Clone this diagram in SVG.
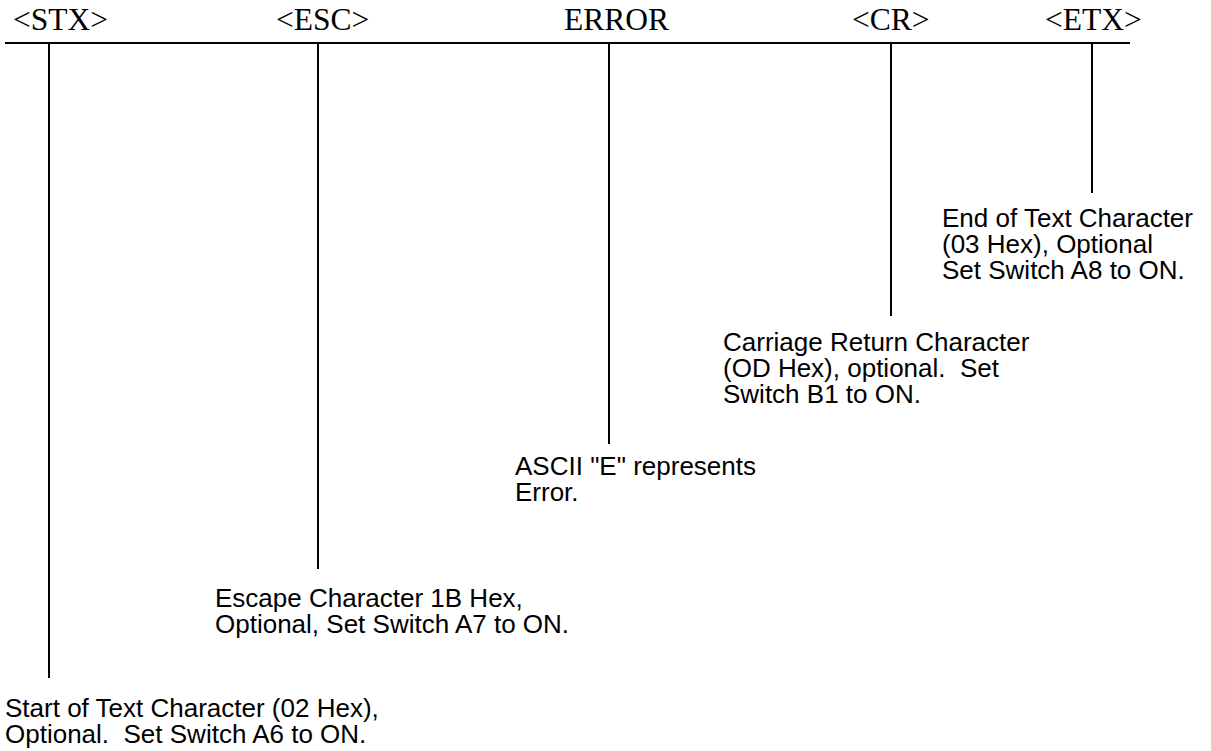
<svg xmlns="http://www.w3.org/2000/svg" width="1211" height="751" viewBox="0 0 1211 751">
<style>
.hdr{font-family:"Liberation Serif","Times New Roman",serif;font-size:31.5px;fill:#000}
.lbl{font-family:"Liberation Sans",Arial,sans-serif;font-size:26px;fill:#000}
.ln{stroke:#000;stroke-width:2;fill:none}
</style>
<rect width="1211" height="751" fill="#fff"/>
<g id="connectors">
<line class="ln" x1="5" y1="43" x2="1130" y2="43"/>
<line class="ln" x1="49" y1="43" x2="49" y2="678"/>
<line class="ln" x1="318" y1="43" x2="318" y2="569"/>
<line class="ln" x1="609" y1="43" x2="609" y2="444"/>
<line class="ln" x1="891" y1="43" x2="891" y2="316"/>
<line class="ln" x1="1092" y1="43" x2="1092" y2="193"/>
</g>
<g id="stx">
<text class="hdr" x="13" y="30">&lt;STX&gt;</text>
<text class="lbl" x="5" y="717">Start of Text Character (02 Hex),</text>
<text class="lbl" x="5" y="743" xml:space="preserve">Optional.  Set Switch A6 to ON.</text>
</g>
<g id="esc">
<text class="hdr" x="276" y="30">&lt;ESC&gt;</text>
<text class="lbl" x="215" y="607">Escape Character 1B Hex,</text>
<text class="lbl" x="215" y="633">Optional, Set Switch A7 to ON.</text>
</g>
<g id="error">
<text class="hdr" x="564" y="30">ERROR</text>
<text class="lbl" x="515" y="475">ASCII "E" represents</text>
<text class="lbl" x="515" y="501">Error.</text>
</g>
<g id="cr">
<text class="hdr" x="852" y="30">&lt;CR&gt;</text>
<text class="lbl" x="723" y="351">Carriage Return Character</text>
<text class="lbl" x="723" y="377" xml:space="preserve">(OD Hex), optional.  Set</text>
<text class="lbl" x="723" y="403">Switch B1 to ON.</text>
</g>
<g id="etx">
<text class="hdr" x="1045" y="30">&lt;ETX&gt;</text>
<text class="lbl" x="942" y="227">End of Text Character</text>
<text class="lbl" x="942" y="253">(03 Hex), Optional</text>
<text class="lbl" x="942" y="279">Set Switch A8 to ON.</text>
</g>
</svg>
